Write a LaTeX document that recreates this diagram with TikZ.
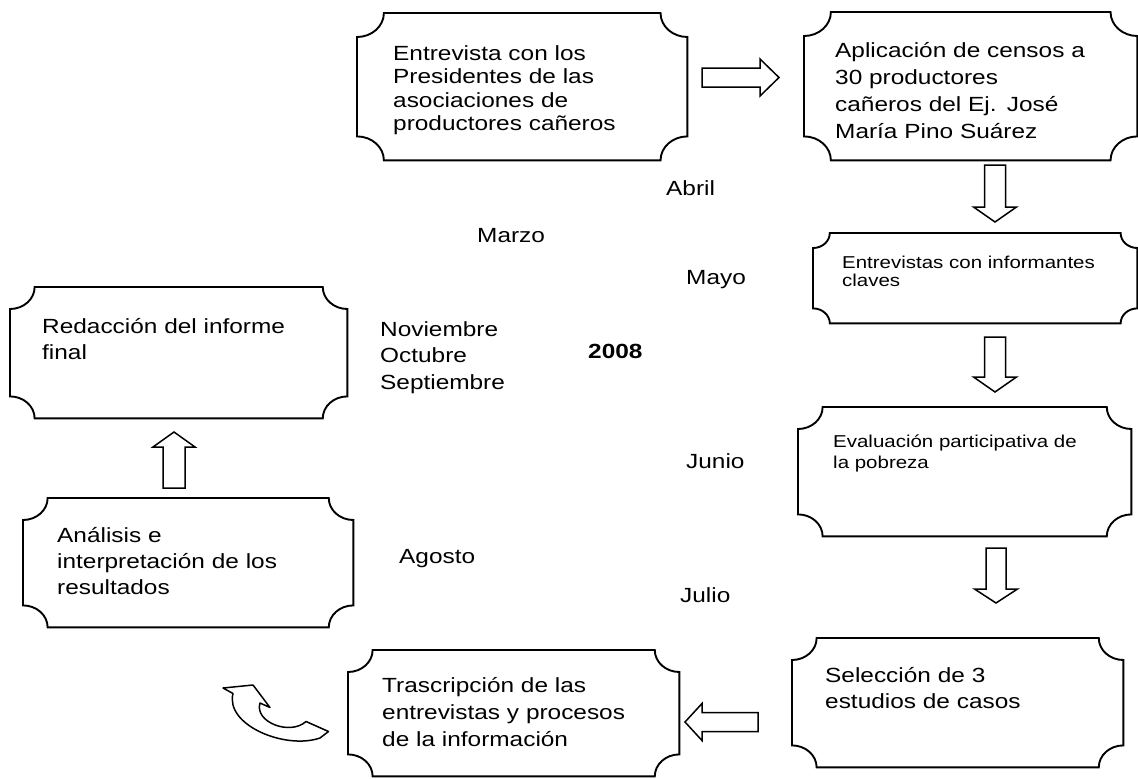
\documentclass[tikz,border=0pt]{standalone}
\usepackage{fontspec}
\setmainfont{Liberation Sans}[FakeStretch=1.19]

% plaque outline round a named node, #1 = corner radius
\newcommand{\plaque}[2][22]{%
  \pgfmathsetmacro{\plqy}{#1}%
  \pgfmathsetmacro{\plqx}{1.12*#1}%
  \draw[line width=1.9pt]
    ([xshift=\plqx pt]#2.north west) -- ([xshift=-\plqx pt]#2.north east)
    arc[start angle=180,end angle=270,x radius=\plqx pt,y radius=\plqy pt]
    -- ([yshift=\plqy pt]#2.south east)
    arc[start angle=90,end angle=180,x radius=\plqx pt,y radius=\plqy pt]
    -- ([xshift=\plqx pt]#2.south west)
    arc[start angle=0,end angle=90,x radius=\plqx pt,y radius=\plqy pt]
    -- ([yshift=-\plqy pt]#2.north west)
    arc[start angle=270,end angle=360,x radius=\plqx pt,y radius=\plqy pt]
    -- cycle;}

\begin{document}
\begin{tikzpicture}[x=1pt,y=-1pt,
    big/.style={font=\fontsize{20.5}{26}\selectfont},
    small/.style={font=\fontsize{17.2}{20}\selectfont},
    stage/.style={anchor=north west,align=left,inner ysep=0pt},
    month/.style={anchor=base west,inner sep=0pt,big},
    pics/blockarrow/.style n args={4}{code={
      \draw[line width=1.5pt] (0,-#2) -- (#1-#4,-#2) -- (#1-#4,-#3) -- (#1,0)
        -- (#1-#4,#3) -- (#1-#4,#2) -- (0,#2) -- cycle;}}]
  \useasboundingbox (0,0) rectangle (1138,779);

  % steps
  \node[stage,big,inner xsep=36pt,text width=258pt,text height=47pt,text depth=100pt,
    font=\fontsize{20.5}{23.5}\selectfont] (pres) at (357,13)
    {Entrevista con los\\Presidentes de las\\asociaciones de\\productores cañeros};
  \node[stage,big,inner xsep=31pt,text width=271pt,text height=45pt,text depth=103pt,
    font=\fontsize{20.5}{27}\selectfont] (censo) at (804,12)
    {Aplicación de censos a\\30 productores\\cañeros del Ej. José\\María Pino Suárez};
  \node[stage,small,inner xsep=29pt,text width=266pt,text height=35pt,text depth=55pt,
    font=\fontsize{17.2}{18.5}\selectfont] (infor) at (813,233)
    {Entrevistas con informantes\\claves};
  \node[stage,small,inner xsep=35pt,text width=263pt,text height=40pt,text depth=89pt,
    font=\fontsize{17.2}{21}\selectfont] (eval) at (798,407)
    {Evaluación participativa de\\la pobreza};
  \node[stage,big,inner xsep=33pt,text width=265pt,text height=44pt,text depth=85pt]
    (selec) at (792,638) {Selección de 3\\estudios de casos};
  \node[stage,big,inner xsep=34pt,text width=263pt,text height=42pt,text depth=84pt,
    font=\fontsize{20.5}{27}\selectfont] (trans) at (348,650)
    {Trascripción de las\\entrevistas y procesos\\de la información};
  \node[stage,big,inner xsep=34pt,text width=262pt,text height=44pt,text depth=85pt]
    (anali) at (23,498) {Análisis e\\interpretación de los\\resultados};
  \node[stage,big,inner xsep=32pt,text width=273pt,text height=46pt,text depth=85pt]
    (redac) at (10,287) {Redacción del informe\\final};

  \foreach \n/\rad in {pres/24,censo/24,infor/15,eval/22,selec/22,trans/22,anali/22,redac/22}
    {\plaque[\rad]{\n}}

  % months
  \node[month] (abril) at (666,195) {Abril};
  \node[month] (marzo) at (477,242) {Marzo};
  \node[month] (mayo) at (686,284) {Mayo};
  \foreach \m [count=\i] in {Noviembre,Octubre,Septiembre}
    { \node[month] (mes\i) at (380,{336+26.7*(\i-1)}) {\m}; }
  \node[month,font=\bfseries\fontsize{20.5}{26}\selectfont] (anio) at (588,358) {2008};
  \node[month] (junio) at (686,468) {Junio};
  \node[month] (agosto) at (399,563) {Agosto};
  \node[month] (julio) at (680,602) {Julio};

  % block arrows
  \pic at (702,77.5) {blockarrow={77}{9.5}{18.5}{19}};
  \pic[rotate=-90] at (995,165) {blockarrow={57}{10.5}{21.5}{15}};
  \pic[rotate=-90] at (995,337) {blockarrow={55}{10.5}{21.5}{15}};
  \pic[rotate=-90] at (996,548) {blockarrow={55}{10}{21.5}{14}};
  \pic[rotate=180] at (758,722) {blockarrow={73}{9.5}{18.5}{17}};
  \pic[rotate=90] at (174,488) {blockarrow={56}{11}{21}{15}};

  % curved arrow
  \draw[line width=1.5pt,line join=round] (223,688) -- (253,685) -- (270,707.5) -- (260,703)
    .. controls (254,722) and (290,736) .. (306,721.5)
    -- (328.5,731.5) -- (320,738)
    .. controls (285,750) and (225,725) .. (233,693.5)
    -- cycle;
\end{tikzpicture}
\end{document}
